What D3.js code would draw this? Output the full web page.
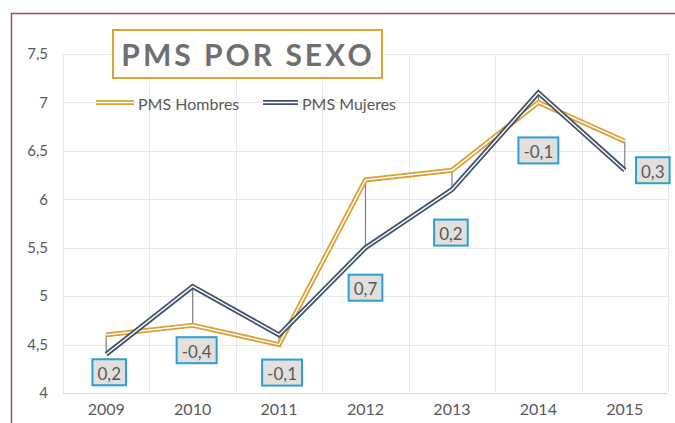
<!DOCTYPE html>
<html>
<head>
<meta charset="utf-8">
<script src="https://cdn.jsdelivr.net/npm/d3@7"></script>
<style>
  html, body { margin: 0; padding: 0; background: #fff; }
  svg { display: block; }
  text { font-family: Lato, "Open Sans", sans-serif; }
</style>
</head>
<body>
<svg id="chart" width="675" height="423"></svg>
<script>
// ---- data ----
const years = ["2009", "2010", "2011", "2012", "2013", "2014", "2015"];
const hombres = [4.6, 4.7, 4.5, 6.2, 6.3, 7.0, 6.6];
const mujeres = [4.4, 5.1, 4.6, 5.5, 6.1, 7.1, 6.3];
const diffLabels = ["0,2", "-0,4", "-0,1", "0,7", "0,2", "-0,1", "0,3"];
const yTicks = [4, 4.5, 5, 5.5, 6, 6.5, 7, 7.5];
const seriesNames = ["PMS Hombres", "PMS Mujeres"];
const titleText = "PMS POR SEXO";

// ---- layout / style ----
const W = 675, H = 423;
const plot = { left: 63, right: 668, top: 54, bottom: 393 };
const colH = "#D9A23A", colM = "#44546A";
const textCol = "#595959";
// pixel offsets of difference labels from the lower point of each year
const labelOffsets = [[3, 18], [4, 25], [3, 28], [0, 40], [-1, 43], [0, 48], [28, 0]];

const svg = d3.select("#chart");

const x = d3.scaleBand().domain(years).range([plot.left, plot.right]).paddingInner(0).paddingOuter(0);
const y = d3.scaleLinear().domain([4, 7.5]).range([plot.bottom, plot.top]);
const cx = d => x(d) + x.bandwidth() / 2;

// frame
svg.append("path")
  .attr("d", `M11.5,${H} L11.5,13.5 L${W},13.5`)
  .attr("fill", "none").attr("stroke", "#A0456A").attr("stroke-width", 1.5);

// horizontal gridlines
svg.append("g").selectAll("line").data(yTicks).join("line")
  .attr("x1", plot.left).attr("x2", plot.right)
  .attr("y1", d => Math.round(y(d)) + 0.5).attr("y2", d => Math.round(y(d)) + 0.5)
  .attr("stroke", d => d === 4 ? "#D9D9D9" : "#E8E8E8").attr("stroke-width", 1);

// vertical gridlines (category boundaries)
const bounds = years.map(d => x(d)).concat([plot.right]);
svg.append("g").selectAll("line").data(bounds).join("line")
  .attr("x1", d => Math.round(d) + 0.5).attr("x2", d => Math.round(d) + 0.5)
  .attr("y1", plot.top).attr("y2", plot.bottom)
  .attr("stroke", "#E8E8E8").attr("stroke-width", 1);

// y axis labels
const yAxis = d3.axisLeft(y).tickValues(yTicks).tickSize(0).tickPadding(0)
  .tickFormat(d => String(d).replace(".", ","));
const gy = svg.append("g").attr("transform", `translate(48,0)`).call(yAxis);
gy.select(".domain").remove();
gy.selectAll("text").attr("font-size", 15).attr("fill", textCol)
  .attr("font-family", "Lato, 'Open Sans', sans-serif");

// x axis labels
const xAxis = d3.axisBottom(x).tickSize(0).tickPadding(0);
const gx = svg.append("g").attr("transform", `translate(0,404)`).call(xAxis);
gx.select(".domain").remove();
gx.selectAll("text").attr("font-size", 16).attr("fill", textCol)
  .attr("font-family", "Lato, 'Open Sans', sans-serif");

// drop lines
svg.append("g").selectAll("line").data(years).join("line")
  .attr("x1", d => cx(d)).attr("x2", d => cx(d))
  .attr("y1", (d, i) => y(hombres[i])).attr("y2", (d, i) => y(mujeres[i]))
  .attr("stroke", "#808080").attr("stroke-width", 1.2);

// double lines
const line = d3.line().x((v, i) => cx(years[i])).y(v => y(v));
function doubleLine(vals, col) {
  const g = svg.append("g");
  g.append("path").attr("d", line(vals)).attr("fill", "none")
    .attr("stroke", col).attr("stroke-width", 5).attr("stroke-linejoin", "miter");
  g.append("path").attr("d", line(vals)).attr("fill", "none")
    .attr("stroke", "#fff").attr("stroke-width", 1.4).attr("stroke-linejoin", "miter");
}
doubleLine(hombres, colH);
doubleLine(mujeres, colM);

// difference labels
const lg = svg.append("g");
years.forEach((d, i) => {
  const low = Math.min(hombres[i], mujeres[i]);
  const px = cx(d) + labelOffsets[i][0];
  const py = y(low) + labelOffsets[i][1];
  const t = lg.append("text").attr("x", px).attr("y", py + 1)
    .attr("text-anchor", "middle").attr("dominant-baseline", "central")
    .attr("font-size", 17).attr("fill", textCol).text(diffLabels[i]);
  const bb = t.node().getBBox();
  lg.insert("rect", () => t.node())
    .attr("x", px - bb.width / 2 - 5).attr("y", py - 13)
    .attr("width", bb.width + 10).attr("height", 26)
    .attr("fill", "#E2DFDC").attr("stroke", "#2A9FD6").attr("stroke-width", 2);
});

// title box
const title = svg.append("g");
title.append("rect").attr("x", 113).attr("y", 30).attr("width", 269).attr("height", 48)
  .attr("fill", "#fff").attr("stroke", "#D9A23A").attr("stroke-width", 2);
title.append("text").attr("x", 248).attr("y", 66).attr("text-anchor", "middle")
  .attr("font-size", 30).attr("font-weight", "bold").attr("letter-spacing", 3)
  .attr("fill", "#6F6F6F").text(titleText);

// legend
const legend = [
  { name: seriesNames[0], col: colH, x1: 96, x2: 134, tx: 138 },
  { name: seriesNames[1], col: colM, x1: 263, x2: 298, tx: 302 }
];
legend.forEach(l => {
  svg.append("line").attr("x1", l.x1).attr("x2", l.x2).attr("y1", 102.5).attr("y2", 102.5)
    .attr("stroke", l.col).attr("stroke-width", 5);
  svg.append("line").attr("x1", l.x1).attr("x2", l.x2).attr("y1", 102.5).attr("y2", 102.5)
    .attr("stroke", "#fff").attr("stroke-width", 1.4);
  svg.append("text").attr("x", l.tx).attr("y", 103).attr("dominant-baseline", "central")
    .attr("font-size", 16).attr("fill", textCol).text(l.name);
});
</script>
</body>
</html>
